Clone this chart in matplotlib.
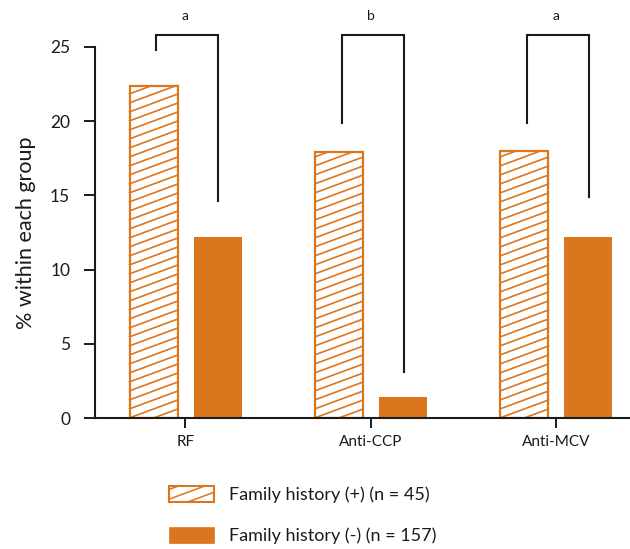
import numpy as np
import matplotlib
matplotlib.use("Agg")
import matplotlib.pyplot as plt
from matplotlib.patches import Rectangle
from matplotlib.lines import Line2D
from matplotlib.legend_handler import HandlerBase
from matplotlib.transforms import IdentityTransform

plt.rcParams['font.family'] = ['Lato', 'DejaVu Sans']

categories = ["RF", "Anti-CCP", "Anti-MCV"]
fh_pos = [22.4, 17.9, 18.0]   # Family history (+) (n = 45)
fh_neg = [12.2, 1.4, 12.2]    # Family history (-) (n = 157)
labels = ["Family history (+) (n = 45)", "Family history (-) (n = 157)"]

# significance brackets: left leg bottom, top, right leg bottom, letter
br_left = [24.8, 19.9, 19.9]
br_top = [25.8, 25.8, 25.8]
br_right = [14.6, 3.1, 14.9]
br_letter = ["a", "b", "a"]

orange = "#dc761e"
ink = "#1a1a1a"


def hatch_segments(x0, y0, w, h, slope=0.37, step=10.0):
    # parallel lines y = slope*x + c, clipped to the rectangle
    segs = []
    c = y0 - slope * (x0 + w) - step
    while c < y0 + h - slope * x0 + step:
        xa = max(x0, (y0 - c) / slope)
        xb = min(x0 + w, (y0 + h - c) / slope)
        if xa < xb:
            segs.append(((xa, xb), (slope * xa + c, slope * xb + c)))
        c += step
    return segs


class HatchHandler(HandlerBase):
    def create_artists(self, legend, orig_handle, xdescent, ydescent,
                       width, height, fontsize, trans):
        rect = Rectangle((-xdescent, -ydescent), width, height,
                         facecolor="white", edgecolor=orange, lw=1.5,
                         transform=trans)
        arts = [rect]
        for xs, ys in hatch_segments(-xdescent, -ydescent, width, height,
                                     slope=0.37, step=7.0):
            arts.append(Line2D(xs, ys, color=orange, lw=1.1, transform=trans))
        return arts


class SolidHandler(HandlerBase):
    def create_artists(self, legend, orig_handle, xdescent, ydescent,
                       width, height, fontsize, trans):
        rect = Rectangle((-xdescent, -ydescent), width, height,
                         facecolor=orange, edgecolor=orange, lw=0.5,
                         transform=trans)
        return [rect]


fig = plt.figure(figsize=(6.3, 5.49), dpi=100)
ax = fig.add_axes([0.151, 0.2386, 0.849, 0.6758])

x = np.arange(len(categories))
width = 0.26
bars_pos = ax.bar(x - 0.17, fh_pos, width, facecolor="white",
                  edgecolor=orange, linewidth=1.6, zorder=2)
bars_neg = ax.bar(x + 0.175, fh_neg, width, color=orange, linewidth=0,
                  zorder=2)

ax.set_xlim(-0.486, 2.4)
ax.set_ylim(0, 25)
ax.set_yticks([0, 5, 10, 15, 20, 25])
ax.set_xticks(x)
ax.set_xticklabels(categories, fontsize=11)
ax.tick_params(axis="y", labelsize=12.5, length=8, width=1.4, pad=10,
               colors=ink)
ax.tick_params(axis="x", length=7, width=1.4, pad=5, colors=ink)
ax.set_ylabel("% within each group", fontsize=15.5, color=ink, labelpad=10)
for s in ["top", "right"]:
    ax.spines[s].set_visible(False)
for s in ["left", "bottom"]:
    ax.spines[s].set_linewidth(1.5)
    ax.spines[s].set_color(ink)

# hatch lines drawn in display space, clipped to each bar
fig.canvas.draw()
for b in bars_pos:
    bb = b.get_window_extent()
    for xs, ys in hatch_segments(bb.x0, bb.y0, bb.width, bb.height,
                                 slope=0.37, step=9.0):
        ln = Line2D(xs, ys, color=orange, lw=1.2, transform=IdentityTransform(),
                    zorder=2.5)
        ax.add_artist(ln)

# significance brackets
for i in range(len(categories)):
    xl = x[i] - 0.155
    xr = x[i] + 0.178
    ax.plot([xl, xl, xr, xr], [br_left[i], br_top[i], br_top[i], br_right[i]],
            color=ink, lw=1.5, clip_on=False, zorder=3,
            solid_joinstyle="miter")
    ax.text(x[i], 27.1, br_letter[i], ha="center", va="center",
            fontsize=10, color=ink, clip_on=False)

handles = [Rectangle((0, 0), 1, 1), Line2D([], [])]
fig.legend(handles, labels, loc="upper left", bbox_to_anchor=(0.268, 0.115),
           frameon=False, fontsize=13, handlelength=2.5, handleheight=1.0,
           handletextpad=0.85, labelspacing=1.3, borderpad=0, borderaxespad=0,
           handler_map={Rectangle: HatchHandler(), Line2D: SolidHandler()},
           labelcolor=ink)

fig.savefig("out.png", dpi=100)
